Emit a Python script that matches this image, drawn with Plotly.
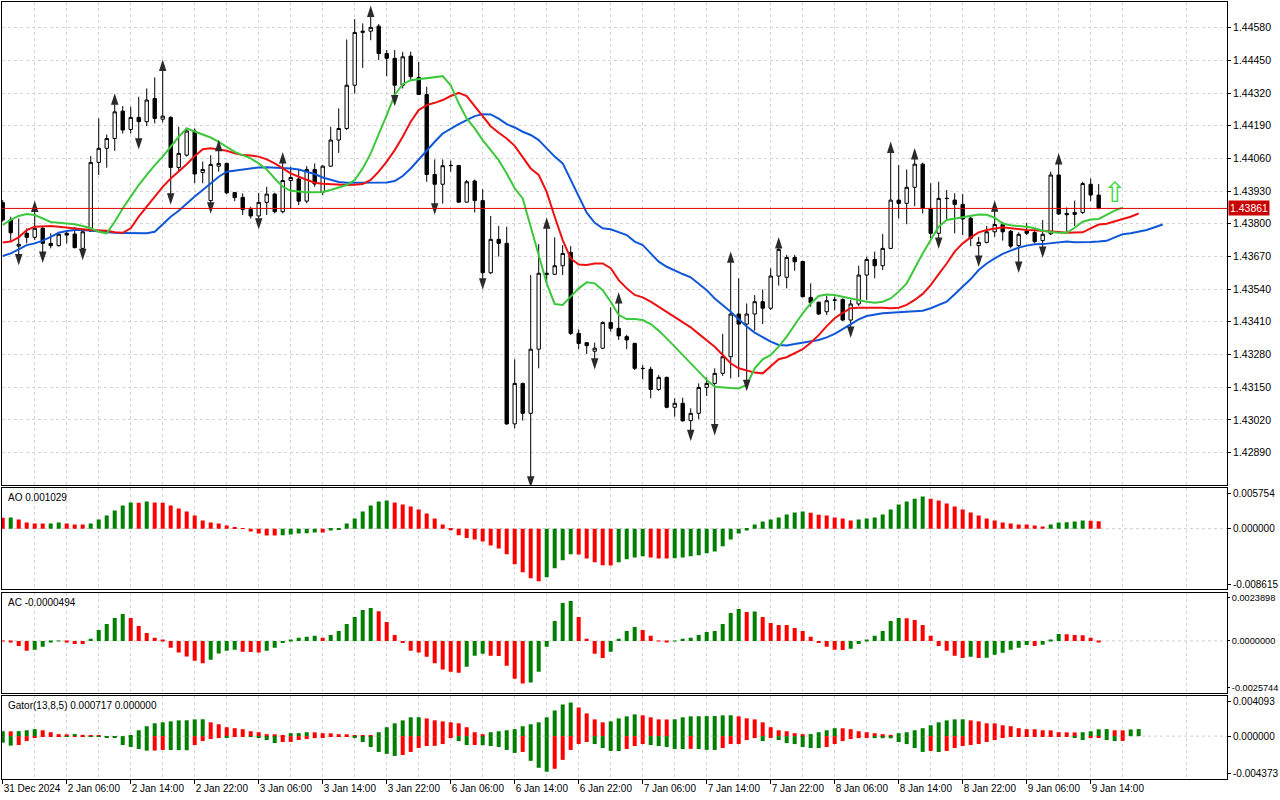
import plotly.graph_objects as go

# --- velas H1, 31 Dec 2024 - 9 Jan 2025 ---
open_ = [1.43884, 1.43815, 1.43711, 1.43762, 1.43746, 1.43782, 1.43722, 1.43713, 1.43762, 1.43759,
         1.43702, 1.43771, 1.44044, 1.44100, 1.44139, 1.44248, 1.44175, 1.44223, 1.44206, 1.44298,
         1.44216, 1.44223, 1.44024, 1.44073, 1.44169, 1.44004, 1.43892, 1.44029, 1.44040, 1.43924,
         1.43905, 1.43857, 1.43831, 1.43885, 1.43918, 1.43848, 1.43972, 1.43978, 1.43890, 1.44016,
         1.43925, 1.44029, 1.44133, 1.44179, 1.44351, 1.44561, 1.44566, 1.44586, 1.44477, 1.44458,
         1.44351, 1.44467, 1.44382, 1.44314, 1.43996, 1.43957, 1.44031, 1.44032, 1.43886, 1.43970,
         1.43892, 1.43605, 1.43738, 1.43722, 1.43004, 1.43165, 1.43046, 1.43301, 1.43603, 1.43599,
         1.43633, 1.43686, 1.43364, 1.43327, 1.43293, 1.43305, 1.43407, 1.43384, 1.43351, 1.43324,
         1.43225, 1.43221, 1.43141, 1.43189, 1.43070, 1.43086, 1.43017, 1.43046, 1.43149, 1.43165,
         1.43205, 1.43271, 1.43441, 1.43401, 1.43441, 1.43490, 1.43464, 1.43592, 1.43587, 1.43666,
         1.43650, 1.43507, 1.43488, 1.43450, 1.43496, 1.43499, 1.43417, 1.43481, 1.43596, 1.43658,
         1.43633, 1.43702, 1.43894, 1.43881, 1.43945, 1.44037, 1.43861, 1.43762, 1.43900, 1.43894,
         1.43877, 1.43822, 1.43713, 1.43726, 1.43768, 1.43797, 1.43770, 1.43713, 1.43771, 1.43765,
         1.43733, 1.43760, 1.43994, 1.43841, 1.43837, 1.43845, 1.43957, 1.43914]
high = [1.43894, 1.43828, 1.43821, 1.43782, 1.43854, 1.43788, 1.43762, 1.43768, 1.43775, 1.43788,
        1.43778, 1.44069, 1.44219, 1.44155, 1.44281, 1.44268, 1.44265, 1.44305, 1.44338, 1.44382,
        1.44415, 1.44228, 1.44186, 1.44182, 1.44179, 1.44047, 1.44073, 1.44096, 1.44043, 1.43927,
        1.43921, 1.43868, 1.43923, 1.43947, 1.43923, 1.44047, 1.44027, 1.44014, 1.44029, 1.44040,
        1.44033, 1.44186, 1.44259, 1.44533, 1.44614, 1.44597, 1.44630, 1.44594, 1.44491, 1.44491,
        1.44484, 1.44484, 1.44444, 1.44345, 1.44056, 1.44056, 1.44051, 1.44033, 1.43974, 1.43976,
        1.43937, 1.43831, 1.43791, 1.43788, 1.43261, 1.43168, 1.43596, 1.43719, 1.43788, 1.43746,
        1.43715, 1.43711, 1.43380, 1.43328, 1.43327, 1.43411, 1.43468, 1.43490, 1.43358, 1.43327,
        1.43238, 1.43231, 1.43198, 1.43192, 1.43106, 1.43108, 1.43066, 1.43165, 1.43189, 1.43225,
        1.43362, 1.43652, 1.43583, 1.43483, 1.43516, 1.43539, 1.43623, 1.43709, 1.43676, 1.43676,
        1.43653, 1.43563, 1.43490, 1.43513, 1.43510, 1.43503, 1.43497, 1.43633, 1.43669, 1.43689,
        1.43759, 1.44089, 1.44033, 1.44016, 1.44063, 1.44043, 1.43961, 1.43967, 1.43934, 1.43921,
        1.43918, 1.43828, 1.43748, 1.43791, 1.43855, 1.43808, 1.43775, 1.43766, 1.43804, 1.43782,
        1.43815, 1.44007, 1.44043, 1.43865, 1.43892, 1.43967, 1.43980, 1.43958]
low = [1.43808, 1.43729, 1.43672, 1.43722, 1.43735, 1.43682, 1.43702, 1.43709, 1.43722, 1.43702,
       1.43693, 1.43768, 1.43994, 1.44023, 1.44090, 1.44159, 1.44159, 1.44133, 1.44188, 1.44199,
       1.44203, 1.43914, 1.44007, 1.44067, 1.43961, 1.43961, 1.43878, 1.44007, 1.43918, 1.43890,
       1.43835, 1.43821, 1.43815, 1.43835, 1.43841, 1.43841, 1.43861, 1.43874, 1.43881, 1.43947,
       1.43914, 1.44027, 1.44082, 1.44173, 1.44318, 1.44420, 1.44530, 1.44451, 1.44387, 1.44305,
       1.44338, 1.44371, 1.44312, 1.43967, 1.43874, 1.43880, 1.44007, 1.43884, 1.43884, 1.43845,
       1.43576, 1.43600, 1.43669, 1.43000, 1.42986, 1.43017, 1.42788, 1.43225, 1.43563, 1.43596,
       1.43596, 1.43358, 1.43301, 1.43282, 1.43258, 1.43301, 1.43371, 1.43338, 1.43301, 1.43218,
       1.43181, 1.43106, 1.43136, 1.43066, 1.43033, 1.43013, 1.42973, 1.43023, 1.43115, 1.42996,
       1.43195, 1.43185, 1.43190, 1.43172, 1.43375, 1.43401, 1.43457, 1.43554, 1.43543, 1.43613,
       1.43507, 1.43470, 1.43437, 1.43437, 1.43457, 1.43413, 1.43384, 1.43473, 1.43497, 1.43583,
       1.43616, 1.43699, 1.43821, 1.43798, 1.43870, 1.43841, 1.43742, 1.43738, 1.43815, 1.43762,
       1.43755, 1.43711, 1.43666, 1.43722, 1.43748, 1.43733, 1.43702, 1.43642, 1.43755, 1.43722,
       1.43702, 1.43755, 1.43835, 1.43768, 1.43791, 1.43839, 1.43890, 1.43857]
close = [1.43815, 1.43764, 1.43718, 1.43746, 1.43782, 1.43722, 1.43713, 1.43758, 1.43755, 1.43705,
         1.43768, 1.44044, 1.44100, 1.44139, 1.44245, 1.44173, 1.44223, 1.44206, 1.44292, 1.44219,
         1.44228, 1.44024, 1.44080, 1.44169, 1.43998, 1.44016, 1.44036, 1.44040, 1.43923, 1.43904,
         1.43857, 1.43831, 1.43885, 1.43918, 1.43848, 1.43972, 1.43984, 1.43890, 1.44016, 1.43958,
         1.44029, 1.44133, 1.44179, 1.44351, 1.44561, 1.44566, 1.44581, 1.44477, 1.44458, 1.44351,
         1.44464, 1.44385, 1.44314, 1.43996, 1.43957, 1.44031, 1.44032, 1.43886, 1.43967, 1.43892,
         1.43605, 1.43738, 1.43722, 1.43004, 1.43165, 1.43046, 1.43301, 1.43603, 1.43599, 1.43633,
         1.43682, 1.43364, 1.43324, 1.43315, 1.43305, 1.43407, 1.43384, 1.43354, 1.43338, 1.43225,
         1.43224, 1.43141, 1.43189, 1.43070, 1.43086, 1.43016, 1.43046, 1.43149, 1.43165, 1.43205,
         1.43271, 1.43441, 1.43401, 1.43441, 1.43490, 1.43464, 1.43592, 1.43698, 1.43666, 1.43649,
         1.43510, 1.43486, 1.43441, 1.43494, 1.43497, 1.43417, 1.43481, 1.43596, 1.43658, 1.43633,
         1.43702, 1.43894, 1.43881, 1.43945, 1.44037, 1.43861, 1.43762, 1.43901, 1.43901, 1.43877,
         1.43819, 1.43742, 1.43726, 1.43768, 1.43797, 1.43768, 1.43711, 1.43758, 1.43762, 1.43729,
         1.43758, 1.43994, 1.43839, 1.43836, 1.43845, 1.43960, 1.43914, 1.43861]

# --- Alligator (ya desplazado: mandíbula +8, dientes +5, labios +3) ---
jaw = [1.43672, 1.43682, 1.43698, 1.43715, 1.43722, 1.43733, 1.43748, 1.43764, 1.43771, 1.43775,
       1.43775, 1.43772, 1.43768, 1.43766, 1.43764, 1.43763, 1.43762, 1.43762, 1.43762, 1.43768,
       1.43799, 1.43828, 1.43852, 1.43881, 1.43908, 1.43934, 1.43961, 1.43987, 1.44007, 1.44011,
       1.44016, 1.44020, 1.44024, 1.44025, 1.44024, 1.44023, 1.44020, 1.44016, 1.44007, 1.43998,
       1.43984, 1.43974, 1.43966, 1.43963, 1.43963, 1.43963, 1.43963, 1.43963, 1.43964, 1.43970,
       1.43990, 1.44020, 1.44056, 1.44093, 1.44126, 1.44159, 1.44179, 1.44196, 1.44212, 1.44228,
       1.44236, 1.44235, 1.44218, 1.44196, 1.44183, 1.44166, 1.44153, 1.44133, 1.44100, 1.44067,
       1.44040, 1.43974, 1.43908, 1.43844, 1.43804, 1.43782, 1.43778, 1.43768, 1.43755, 1.43729,
       1.43715, 1.43682, 1.43649, 1.43629, 1.43613, 1.43600, 1.43587, 1.43563, 1.43536, 1.43503,
       1.43477, 1.43450, 1.43420, 1.43391, 1.43367, 1.43348, 1.43331, 1.43318, 1.43316, 1.43322,
       1.43328, 1.43331, 1.43338, 1.43348, 1.43362, 1.43381, 1.43401, 1.43420, 1.43433, 1.43440,
       1.43444, 1.43446, 1.43448, 1.43449, 1.43450, 1.43454, 1.43464, 1.43477, 1.43490, 1.43520,
       1.43550, 1.43580, 1.43616, 1.43642, 1.43662, 1.43680, 1.43693, 1.43705, 1.43713, 1.43718,
       1.43719, 1.43722, 1.43726, 1.43729, 1.43726, 1.43725, 1.43727, 1.43729, 1.43732, 1.43746,
       1.43758, 1.43762, 1.43767, 1.43775, 1.43786, 1.43797]
teeth = [1.43725, 1.43729, 1.43746, 1.43775, 1.43788, 1.43791, 1.43791, 1.43788, 1.43784, 1.43780,
         1.43778, 1.43775, 1.43775, 1.43772, 1.43766, 1.43764, 1.43782, 1.43828, 1.43868, 1.43908,
         1.43947, 1.43980, 1.44007, 1.44037, 1.44069, 1.44096, 1.44100, 1.44096, 1.44090, 1.44080,
         1.44073, 1.44071, 1.44067, 1.44056, 1.44040, 1.44020, 1.44000, 1.43987, 1.43974, 1.43963,
         1.43959, 1.43957, 1.43954, 1.43954, 1.43955, 1.43958, 1.43974, 1.44007, 1.44047, 1.44093,
         1.44146, 1.44206, 1.44252, 1.44272, 1.44281, 1.44292, 1.44308, 1.44321, 1.44308, 1.44268,
         1.44226, 1.44188, 1.44162, 1.44139, 1.44110, 1.44067, 1.44020, 1.43994, 1.43927, 1.43828,
         1.43735, 1.43662, 1.43638, 1.43636, 1.43642, 1.43642, 1.43623, 1.43576, 1.43543, 1.43517,
         1.43507, 1.43490, 1.43470, 1.43450, 1.43430, 1.43407, 1.43388, 1.43362, 1.43338, 1.43311,
         1.43278, 1.43245, 1.43225, 1.43216, 1.43208, 1.43205, 1.43234, 1.43261, 1.43269, 1.43285,
         1.43301, 1.43327, 1.43357, 1.43393, 1.43424, 1.43446, 1.43464, 1.43466, 1.43466, 1.43468,
         1.43466, 1.43464, 1.43466, 1.43477, 1.43497, 1.43521, 1.43556, 1.43600, 1.43642, 1.43689,
         1.43722, 1.43746, 1.43766, 1.43775, 1.43782, 1.43786, 1.43782, 1.43778, 1.43775, 1.43774,
         1.43772, 1.43771, 1.43767, 1.43764, 1.43764, 1.43766, 1.43782, 1.43797, 1.43800, 1.43808,
         1.43819, 1.43828, 1.43841]
lips = [1.43795, 1.43815, 1.43831, 1.43839, 1.43835, 1.43821, 1.43807, 1.43804, 1.43801, 1.43798,
        1.43791, 1.43782, 1.43768, 1.43762, 1.43808, 1.43861, 1.43908, 1.43954, 1.43994, 1.44033,
        1.44067, 1.44106, 1.44146, 1.44179, 1.44166, 1.44153, 1.44143, 1.44126, 1.44106, 1.44086,
        1.44073, 1.44060, 1.44040, 1.44016, 1.43980, 1.43947, 1.43931, 1.43927, 1.43925, 1.43925,
        1.43926, 1.43934, 1.43943, 1.43954, 1.43974, 1.44020, 1.44080, 1.44153, 1.44232, 1.44312,
        1.44355, 1.44371, 1.44375, 1.44381, 1.44385, 1.44387, 1.44351, 1.44279, 1.44219, 1.44179,
        1.44133, 1.44093, 1.44053, 1.44000, 1.43941, 1.43901, 1.43788, 1.43669, 1.43563, 1.43481,
        1.43477, 1.43510, 1.43543, 1.43567, 1.43563, 1.43536, 1.43490, 1.43437, 1.43421, 1.43421,
        1.43417, 1.43401, 1.43375, 1.43344, 1.43311, 1.43278, 1.43249, 1.43216, 1.43179, 1.43152,
        1.43148, 1.43147, 1.43145, 1.43159, 1.43225, 1.43261, 1.43278, 1.43311, 1.43351, 1.43397,
        1.43444, 1.43483, 1.43513, 1.43519, 1.43517, 1.43510, 1.43503, 1.43497, 1.43490, 1.43486,
        1.43490, 1.43503, 1.43530, 1.43563, 1.43623, 1.43682, 1.43735, 1.43788, 1.43815, 1.43821,
        1.43825, 1.43831, 1.43837, 1.43836, 1.43824, 1.43801, 1.43794, 1.43791, 1.43788, 1.43782,
        1.43772, 1.43767, 1.43764, 1.43764, 1.43784, 1.43808, 1.43817, 1.43819, 1.43835, 1.43852,
        1.43864]

# --- fractales (índice de vela) ---
fractal_up = [4, 14, 20, 27, 35, 46, 68, 77, 91, 97, 111, 114, 124, 132]
fractal_down = [2, 5, 10, 17, 21, 26, 32, 49, 54, 60, 66, 74, 86, 89, 93, 106, 117, 122, 127, 130]

# --- Awesome Oscillator ---
ao = [0.00155, 0.00158, 0.00129, 0.00087, 0.00073, 0.00072, 0.00074, 0.00087, 0.00073, 0.00059,
      0.00057, 0.00073, 0.00129, 0.00186, 0.00256, 0.00327, 0.00369, 0.00367, 0.00383, 0.00369,
      0.00366, 0.00327, 0.00284, 0.00242, 0.00186, 0.00115, 0.00087, 0.00073, 0.00045, 0.00016,
      0.00007, -0.00040, -0.00068, -0.00096, -0.00098, -0.00095, -0.00082, -0.00068, -0.00065, -0.00054,
      -0.00056, -0.00026, -0.00007, 0.00073, 0.00143, 0.00242, 0.00327, 0.00383, 0.00397, 0.00369,
      0.00341, 0.00313, 0.00270, 0.00214, 0.00143, 0.00059, -0.00021, -0.00092, -0.00134, -0.00153,
      -0.00181, -0.00237, -0.00280, -0.00364, -0.00505, -0.00618, -0.00703, -0.00745, -0.00689, -0.00562,
      -0.00449, -0.00364, -0.00366, -0.00421, -0.00477, -0.00519, -0.00521, -0.00477, -0.00435, -0.00407,
      -0.00392, -0.00407, -0.00421, -0.00423, -0.00420, -0.00407, -0.00392, -0.00378, -0.00350, -0.00322,
      -0.00251, -0.00153, -0.00068, -0.00026, 0.00059, 0.00101, 0.00129, 0.00157, 0.00200, 0.00228,
      0.00242, 0.00226, 0.00198, 0.00186, 0.00157, 0.00143, 0.00115, 0.00129, 0.00143, 0.00157,
      0.00200, 0.00270, 0.00341, 0.00383, 0.00425, 0.00454, 0.00424, 0.00397, 0.00355, 0.00313,
      0.00270, 0.00228, 0.00186, 0.00143, 0.00115, 0.00087, 0.00073, 0.00059, 0.00057, 0.00045,
      0.00031, 0.00059, 0.00087, 0.00089, 0.00101, 0.00115, 0.00113, 0.00103]

# --- Accelerator Oscillator ---
ac = [-0.00002, -0.00005, -0.00025, -0.00049, -0.00044, -0.00029, -0.00007, 0.00001, -0.00005, -0.00015,
      -0.00016, 0.00010, 0.00054, 0.00084, 0.00113, 0.00133, 0.00113, 0.00074, 0.00039, 0.00015,
      0.00003, -0.00034, -0.00057, -0.00077, -0.00098, -0.00111, -0.00093, -0.00062, -0.00049, -0.00044,
      -0.00054, -0.00055, -0.00057, -0.00049, -0.00034, -0.00010, 0.00003, 0.00015, 0.00020, 0.00025,
      0.00015, 0.00029, 0.00049, 0.00084, 0.00118, 0.00152, 0.00162, 0.00147, 0.00093, 0.00029,
      -0.00011, -0.00049, -0.00057, -0.00079, -0.00111, -0.00141, -0.00152, -0.00157, -0.00128, -0.00074,
      -0.00064, -0.00074, -0.00075, -0.00123, -0.00187, -0.00211, -0.00206, -0.00152, -0.00029, 0.00098,
      0.00187, 0.00197, 0.00118, 0.00010, -0.00064, -0.00084, -0.00054, 0.00010, 0.00049, 0.00069,
      0.00054, 0.00025, -0.00003, -0.00006, -0.00003, 0.00010, 0.00015, 0.00029, 0.00044, 0.00049,
      0.00084, 0.00138, 0.00157, 0.00143, 0.00145, 0.00118, 0.00088, 0.00079, 0.00078, 0.00064,
      0.00049, 0.00020, -0.00011, -0.00029, -0.00044, -0.00045, -0.00039, -0.00015, 0.00005, 0.00025,
      0.00049, 0.00098, 0.00113, 0.00112, 0.00103, 0.00079, 0.00025, -0.00025, -0.00049, -0.00074,
      -0.00084, -0.00079, -0.00084, -0.00083, -0.00069, -0.00059, -0.00044, -0.00034, -0.00020, -0.00025,
      -0.00019, 0.00005, 0.00034, 0.00033, 0.00029, 0.00028, 0.00015, -0.0000494]

# --- Gator (13,8,5) ---
gator_up = [0.00050, 0.00049, 0.00051, 0.00060, 0.00071, 0.00060, 0.00040, 0.00020, 0.00019, 0.00021,
            0.00013, 0.00010, 0.00003, 0.00001, 0.00001, 0.00000, 0.00003, 0.00060, 0.00101, 0.00131,
            0.00141, 0.00151, 0.00161, 0.00162, 0.00171, 0.00172, 0.00141, 0.00121, 0.00091, 0.00081,
            0.00071, 0.00050, 0.00040, 0.00020, 0.00019, 0.00010, 0.00030, 0.00031, 0.00040, 0.00039,
            0.00030, 0.00029, 0.00020, 0.00019, 0.00010, 0.00006, 0.00003, 0.00040, 0.00091, 0.00131,
            0.00161, 0.00192, 0.00193, 0.00181, 0.00161, 0.00151, 0.00141, 0.00131, 0.00091, 0.00040,
            0.00020, 0.00040, 0.00050, 0.00060, 0.00071, 0.00101, 0.00121, 0.00141, 0.00192, 0.00262,
            0.00323, 0.00343, 0.00292, 0.00232, 0.00171, 0.00141, 0.00151, 0.00181, 0.00202, 0.00222,
            0.00212, 0.00192, 0.00171, 0.00170, 0.00172, 0.00192, 0.00202, 0.00203, 0.00204, 0.00205,
            0.00212, 0.00213, 0.00202, 0.00182, 0.00171, 0.00141, 0.00091, 0.00060, 0.00050, 0.00030,
            0.00020, 0.00021, 0.00040, 0.00060, 0.00081, 0.00080, 0.00071, 0.00050, 0.00040, 0.00030,
            0.00020, 0.00013, 0.00030, 0.00040, 0.00060, 0.00081, 0.00111, 0.00141, 0.00161, 0.00171,
            0.00172, 0.00161, 0.00151, 0.00131, 0.00130, 0.00111, 0.00101, 0.00081, 0.00071, 0.00070,
            0.00060, 0.00059, 0.00040, 0.00039, 0.00038, 0.00040, 0.00050, 0.00070, 0.00072, 0.00060,
            0.00059, 0.00068, 0.000717]
gator_down = [-0.00067, -0.00097, -0.00091, -0.00050, -0.00017, -0.00007, -0.00003, -0.00002, -0.00003, -0.00002,
              -0.00001, -0.00002, -0.00005, -0.00010, -0.00017, -0.00091, -0.00111, -0.00131, -0.00148, -0.00147,
              -0.00141, -0.00142, -0.00143, -0.00144, -0.00091, -0.00050, -0.00030, -0.00010, -0.00011, -0.00007,
              -0.00003, -0.00004, -0.00020, -0.00040, -0.00071, -0.00060, -0.00059, -0.00040, -0.00030, -0.00020,
              -0.00010, -0.00006, -0.00005, -0.00004, -0.00020, -0.00060, -0.00111, -0.00161, -0.00181, -0.00202,
              -0.00192, -0.00161, -0.00121, -0.00101, -0.00099, -0.00081, -0.00020, -0.00050, -0.00091, -0.00090,
              -0.00092, -0.00101, -0.00111, -0.00141, -0.00171, -0.00161, -0.00252, -0.00323, -0.00363, -0.00333,
              -0.00242, -0.00141, -0.00081, -0.00060, -0.00081, -0.00121, -0.00151, -0.00152, -0.00131, -0.00101,
              -0.00081, -0.00091, -0.00101, -0.00111, -0.00131, -0.00132, -0.00130, -0.00131, -0.00140, -0.00141,
              -0.00121, -0.00081, -0.00080, -0.00040, -0.00020, -0.00050, -0.00010, -0.00040, -0.00071, -0.00081,
              -0.00111, -0.00121, -0.00122, -0.00111, -0.00081, -0.00050, -0.00030, -0.00020, -0.00010, -0.00020,
              -0.00021, -0.00022, -0.00060, -0.00081, -0.00121, -0.00161, -0.00151, -0.00162, -0.00151, -0.00121,
              -0.00101, -0.00091, -0.00081, -0.00060, -0.00040, -0.00010, -0.00009, -0.00007, -0.00006, -0.00005,
              -0.00004, -0.00003, -0.00002, -0.00001, -0.00010, -0.00040, -0.00020, -0.00010, -0.00040, -0.00050,
              -0.00049, 0.0, 0.0]

label_bars = [0, 8, 16, 24, 32, 40, 48, 56, 64, 72, 80, 88, 96, 104, 112, 120, 128, 136]
time_labels = ["31 Dec 2024", "2 Jan 06:00", "2 Jan 14:00", "2 Jan 22:00", "3 Jan 06:00",
               "3 Jan 14:00", "3 Jan 22:00", "6 Jan 06:00", "6 Jan 14:00", "6 Jan 22:00",
               "7 Jan 06:00", "7 Jan 14:00", "7 Jan 22:00", "8 Jan 06:00", "8 Jan 14:00",
               "8 Jan 22:00", "9 Jan 06:00", "9 Jan 14:00"]
price_ticks = [1.42890, 1.43020, 1.43150, 1.43280, 1.43410, 1.43540, 1.43670,
               1.43800, 1.43930, 1.44060, 1.44190, 1.44320, 1.44450, 1.44580]

last_price = 1.43861
signal_bar, signal_price = 139, 1.43926

PRICE_MIN, PRICE_MAX = 1.42761, 1.44682
AO_MIN, AO_MAX = -0.008615, 0.005754
AC_MIN, AC_MAX = -0.0025744, 0.0023898
GT_MIN, GT_MAX = -0.004373, 0.004093

VERDE = "#008000"
ROJO = "#ff0000"
GRID = "#d4d4d4"
FUENTE = "Liberation Sans"


def colores(vals, primero=ROJO, absoluto=False):
    v = [abs(a) for a in vals] if absoluto else vals
    cols = [primero]
    for a, b in zip(v[:-1], v[1:]):
        cols.append(VERDE if b > a else ROJO)
    return cols


def idx(lista):
    return list(range(len(lista)))


fig = go.Figure()

# --- panel principal ---
fig.add_trace(go.Candlestick(
    x=idx(close), open=open_, high=high, low=low, close=close,
    increasing=dict(line=dict(color="black", width=1), fillcolor="white"),
    decreasing=dict(line=dict(color="black", width=1), fillcolor="black"),
    whiskerwidth=0, hoverinfo="skip", xaxis="x", yaxis="y"
))
for serie, color in [(jaw, "#1057d8"), (teeth, "#ee1111"), (lips, "#3cc83c")]:
    fig.add_trace(go.Scatter(x=idx(serie), y=serie, mode="lines",
                             line=dict(color=color, width=2), hoverinfo="skip",
                             xaxis="x", yaxis="y"))

FR_OFF = 0.00038
fig.add_trace(go.Scatter(
    x=fractal_up, y=[high[i] + FR_OFF for i in fractal_up], mode="markers",
    marker=dict(symbol="arrow", size=12, color="#2a2a2a", angle=0, line=dict(width=0)),
    hoverinfo="skip", xaxis="x", yaxis="y"))
fig.add_trace(go.Scatter(
    x=fractal_down, y=[low[i] - FR_OFF for i in fractal_down], mode="markers",
    marker=dict(symbol="arrow", size=12, color="#2a2a2a", angle=180, line=dict(width=0)),
    hoverinfo="skip", xaxis="x", yaxis="y"))

# --- AO / AC / Gator ---
fig.add_trace(go.Bar(x=idx(ao), y=ao, width=0.5, marker=dict(color=colores(ao), line=dict(width=0)),
                     hoverinfo="skip", xaxis="x2", yaxis="y2"))
fig.add_trace(go.Bar(x=idx(ac), y=ac, width=0.5, marker=dict(color=colores(ac), line=dict(width=0)),
                     hoverinfo="skip", xaxis="x3", yaxis="y3"))
fig.add_trace(go.Bar(x=idx(gator_up), y=gator_up, width=0.5,
                     marker=dict(color=colores(gator_up, VERDE), line=dict(width=0)),
                     hoverinfo="skip", xaxis="x4", yaxis="y4"))
fig.add_trace(go.Bar(x=idx(gator_down), y=gator_down, width=0.5,
                     marker=dict(color=colores(gator_down, VERDE, absoluto=True), line=dict(width=0)),
                     hoverinfo="skip", xaxis="x4", yaxis="y4"))

# --- ejes ---
X_RANGE = [-0.09, 153.04]
vgrid = dict(tickvals=list(range(4, 153, 8)), showgrid=True, gridcolor=GRID,
             griddash="3px,3px", gridwidth=1, ticks="")
base_x = dict(range=X_RANGE, showline=True, linecolor="black", linewidth=1, mirror=True,
              tickvals=label_bars, ticktext=time_labels, showgrid=True, gridcolor=GRID,
              griddash="3px,3px", zeroline=False, minor=vgrid, fixedrange=True,
              automargin=False, tickangle=0)

doms = {"y": [0.3784, 1.0], "y2": [0.2439, 0.3745], "y3": [0.1107, 0.2400], "y4": [0.0, 0.1068]}


def dentro(lo, hi, dom, px=5):
    # pone las etiquetas extremas un poco dentro del panel, como MT5
    alto = (dom[1] - dom[0]) * 777
    d = (hi - lo) * px / alto
    return [hi - d, 0, lo + d]


base_y = dict(side="right", showline=True, linecolor="black", linewidth=1, mirror=True,
              ticks="outside", ticklen=3, tickcolor="black", zeroline=False, fixedrange=True,
              tickfont=dict(size=10.5), automargin=False)

fig.update_layout(
    width=1280, height=800,
    margin=dict(l=2, r=53, t=2, b=21),
    paper_bgcolor="white", plot_bgcolor="white",
    showlegend=False, barmode="overlay", boxgap=0.4, hovermode=False,
    font=dict(family=FUENTE, size=10, color="black"),
    xaxis=dict(base_x, anchor="y", showticklabels=False, ticks="",
               rangeslider=dict(visible=False)),
    xaxis2=dict(base_x, anchor="y2", matches="x", showticklabels=False, ticks=""),
    xaxis3=dict(base_x, anchor="y3", matches="x", showticklabels=False, ticks=""),
    xaxis4=dict(base_x, anchor="y4", matches="x", ticks="outside", ticklen=4,
                tickcolor="black", ticklabelposition="outside right",
                tickfont=dict(size=10)),
    yaxis=dict(base_y, domain=doms["y"], anchor="x", range=[PRICE_MIN, PRICE_MAX],
               tickvals=price_ticks, ticktext=[f"{p:.5f}" for p in price_ticks],
               showgrid=True, gridcolor=GRID, griddash="3px,3px"),
    yaxis2=dict(base_y, domain=doms["y2"], anchor="x2", range=[AO_MIN, AO_MAX],
                tickvals=dentro(AO_MIN, AO_MAX, doms["y2"]), tickfont=dict(size=10),
                ticktext=["0.005754", "0.000000", "-0.008615"], showgrid=False),
    yaxis3=dict(base_y, domain=doms["y3"], anchor="x3", range=[AC_MIN, AC_MAX],
                tickvals=dentro(AC_MIN, AC_MAX, doms["y3"]), tickfont=dict(size=9.2),
                ticklen=2,
                ticktext=["0.0023898", "0.0000000", "-0.0025744"], showgrid=False),
    yaxis4=dict(base_y, domain=doms["y4"], anchor="x4", range=[GT_MIN, GT_MAX],
                tickvals=dentro(GT_MIN, GT_MAX, doms["y4"]), tickfont=dict(size=10),
                ticktext=["0.004093", "0.000000", "-0.004373"], showgrid=False),
)

# líneas de cero punteadas y línea de precio
shapes = []
for ya in ["y2", "y3", "y4"]:
    xa = "x" + ya[1:]
    shapes.append(dict(type="line", xref=f"{xa} domain", x0=0, x1=1, yref=ya, y0=0, y1=0,
                       line=dict(color="#cfcfcf", width=1, dash="3px,3px"), layer="below"))
shapes.append(dict(type="line", xref="x domain", x0=0, x1=1, yref="y",
                   y0=last_price, y1=last_price, line=dict(color="#e00000", width=1)))
fig.update_layout(shapes=shapes)

annotations = [
    dict(xref="paper", x=1, xanchor="left", yref="y", y=last_price, text=f"{last_price:.5f}",
         showarrow=False, bgcolor="#c80000", font=dict(color="white", size=10.5),
         borderpad=1, xshift=1),
    dict(xref="x", x=signal_bar, yref="y", y=signal_price, text="⇧", showarrow=False,
         font=dict(family="DejaVu Sans", size=28, color="#3ed83e")),
    dict(xref="paper", x=0, xanchor="left", xshift=4, yref="y2 domain", y=1, yanchor="top",
         yshift=-2, text="AO 0.001029", showarrow=False, font=dict(size=10)),
    dict(xref="paper", x=0, xanchor="left", xshift=4, yref="y3 domain", y=1, yanchor="top",
         yshift=-2, text="AC -0.0000494", showarrow=False, font=dict(size=10)),
    dict(xref="paper", x=0, xanchor="left", xshift=4, yref="y4 domain", y=1, yanchor="top",
         yshift=-2, text="Gator(13,8,5) 0.000717 0.000000", showarrow=False, font=dict(size=10)),
]
fig.update_layout(annotations=annotations)

fig.write_html("out.html", config={"displayModeBar": False},
               post_script="document.body.style.margin='0px';")
